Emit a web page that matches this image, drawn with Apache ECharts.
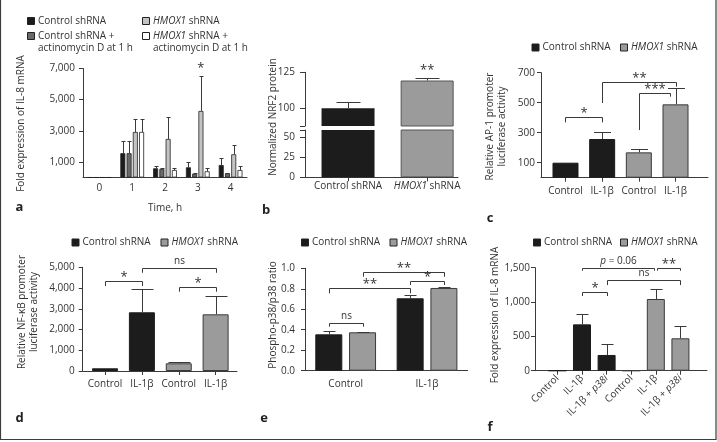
<!DOCTYPE html>
<html><head><meta charset="utf-8">
<script src="https://cdn.jsdelivr.net/npm/echarts@6/dist/echarts.min.js"></script>
<style>html,body{margin:0;padding:0;background:#fff}#c{width:717px;height:442px}</style>
</head><body><div id="c"></div>
<script>
// ---------------- DATA ----------------
// Panel a: fold expression of IL-8 mRNA over time
const aTimes = ['0', '1', '2', '3', '4'];
const aCtrl       = [1, 1560, 590, 655, 800];
const aCtrlErr    = [1, 2370, 740, 1000, 1235];
const aCtrlAct    = [1, 1560, 550, 245, 270];
const aCtrlActErr = [1, 2370, 600, 290, 300];
const aHmox       = [1, 2925, 2475, 4275, 1490];
const aHmoxErr    = [1, 3740, 3870, 6525, 2070];
const aHmoxAct    = [1, 2925, 480, 400, 480];
const aHmoxActErr = [1, 3740, 610, 590, 740];
const aYTicks = [1000, 3000, 5000, 7000];

// Panel b: normalized NRF2 protein (broken axis)
const bCats = ['Control shRNA', 'HMOX1 shRNA'];
const bValues = [100, 119.3];
const bErr = [104.6, 121.3];
const bUpperTicks = [100, 125];
const bLowerTicks = [0, 25, 50];

// Panel c: AP-1 promoter luciferase activity
const cCats = ['Control', 'IL-1β', 'Control', 'IL-1β'];
const cCtrl = [100, 258];
const cCtrlErr = [100, 302];
const cHmox = [169, 489];
const cHmoxErr = [191, 596];
const cYTicks = [100, 300, 500, 700];

// Panel d: NF-kB promoter luciferase activity
const dCats = ['Control', 'IL-1β', 'Control', 'IL-1β'];
const dCtrl = [130, 2830];
const dCtrlErr = [130, 3937];
const dHmox = [371, 2733];
const dHmoxErr = [450, 3630];

// Panel e: phospho-p38/p38 ratio
const eCats = ['Control', 'IL-1β'];
const eCtrl = [0.355, 0.707];
const eCtrlErr = [0.388, 0.739];
const eHmox = [0.375, 0.808];
const eHmoxErr = [0.381, 0.817];

// Panel f: IL-8 mRNA with p38 inhibitor
const fCats = ['Control', 'IL-1β', 'IL-1β + p38i', 'Control', 'IL-1β', 'IL-1β + p38i'];
const fCtrl = [0, 675, 229];
const fCtrlErr = [0, 821, 384];
const fHmox = [0, 1044, 472];
const fHmoxErr = [0, 1189, 651];

// significance annotations (data units)
const cSig = [
  {from: 0, to: 1, top: 403, endL: 369, endR: 369, text: '*'},
  {from: 1, to: 3, top: 640, endL: 498, endR: 607, text: '**'},
  {from: 2, to: 2.85, top: 563, endL: 318, endR: 540, text: '***'}
];
const dSig = [
  {from: 0, to: 1, top: 4337, endL: 4096, endR: 4096, text: '*'},
  {from: 1, to: 3, top: 4949, endL: 4737, endR: 4737, text: 'ns'},
  {from: 2, to: 3, top: 4034, endL: 3822, endR: 3822, text: '*'}
];
const eSig = [
  {from: 0, s1: 0, to: 0, s2: 1, top: 0.463, endL: 0.43, endR: 0.43, text: 'ns'},
  {from: 0, s1: 0, to: 1, s2: 0, top: 0.805, endL: 0.756, endR: 0.756, text: '**'},
  {from: 0, s1: 1, to: 1, s2: 1, top: 0.967, endL: 0.918, endR: 0.918, text: '**'},
  {from: 1, s1: 0, to: 1, s2: 1, top: 0.876, endL: 0.837, endR: 0.837, text: '*'}
];
const fSig = [
  {from: 1, to: 3.93, top: 1499, endL: 1456, endR: 1456, text: '{i|p} = 0.06'},
  {from: 4.04, to: 5, top: 1499, endL: 1456, endR: 1456, text: '**'},
  {from: 2, to: 5, top: 1320, endL: 1247, endR: 1247, text: 'ns'},
  {from: 1, to: 2, top: 1150, endL: 1087, endR: 1087, text: '*'}
];

// ---------------- STYLE ----------------
const FONT = '"Open Sans", "Noto Sans", sans-serif';
const TXT = '#333333';
const AX = '#3a3a3a';
const C_BLACK = '#1c1c1c', C_DGRAY = '#6a6a6a', C_LGRAY = '#c3c3c3', C_WHITE = '#ffffff', C_GRAY = '#9b9b9b';
const RICH = {i: {fontStyle: 'italic', fontSize: 10, fontFamily: FONT, color: TXT}};

const chart = echarts.init(document.getElementById('c'));

const fmtK = v => Number(v).toLocaleString('en-US');
const catFmt = cats => v => {
  const c = cats[Math.round(v)];
  return c === undefined ? '' : c.replace('HMOX1', '{i|HMOX1}').replace('p38i', '{i|p38i}');
};

function yAxis(grid, min, max, o) {
  o = o || {};
  return {
    type: 'value', gridIndex: grid, min: min, max: max, interval: o.interval,
    axisLine: {show: true, onZero: false, lineStyle: {color: AX, width: 1}},
    axisTick: {show: true, length: o.tickLen || 4, lineStyle: {color: AX}, customValues: o.ticks},
    axisLabel: {fontSize: 10, color: TXT, fontFamily: FONT, margin: o.margin || 6,
      customValues: o.labels, formatter: o.fmt || (v => fmtK(v))},
    splitLine: {show: false}
  };
}
function xValAxis(grid, min, max, cats, o) {
  o = o || {};
  const ticks = cats.map((c, i) => i);
  return {
    type: 'value', gridIndex: grid, min: min, max: max, show: o.show !== false,
    axisLine: {show: true, onZero: false, lineStyle: {color: AX, width: 1}},
    axisTick: {show: true, length: 4, lineStyle: {color: AX}, customValues: ticks},
    axisLabel: {fontSize: 10, color: TXT, fontFamily: FONT, margin: o.margin || 6,
      customValues: ticks, formatter: catFmt(cats), rich: RICH, rotate: o.rotate || 0},
    splitLine: {show: false}
  };
}

function barStyle(color) {
  return {color: color, borderColor: color === C_BLACK ? C_BLACK : AX, borderWidth: 1};
}

function errorSeries(xi, yi, points, capW, offsetOf) {
  return {
    type: 'custom', xAxisIndex: xi, yAxisIndex: yi, z: 5, silent: true,
    data: points,
    renderItem: function (params, api) {
      const x = api.value(0), v = api.value(1), t = api.value(2), s = api.value(3);
      if (!(t > v)) return;
      const dx = offsetOf ? offsetOf(s) : 0;
      const p = api.coord([x, v]), q = api.coord([x, t]);
      const cx = Math.round(p[0] + dx) + 0.5, qy = Math.round(q[1]) + 0.5;
      return {type: 'group', children: [
        {type: 'line', shape: {x1: cx, y1: p[1], x2: cx, y2: qy}, style: {stroke: AX, lineWidth: 1}},
        {type: 'line', shape: {x1: cx - capW / 2, y1: qy, x2: cx + capW / 2, y2: qy}, style: {stroke: AX, lineWidth: 1}}
      ]};
    }
  };
}

function sigText(text, x, y) {
  const star = /^\*+$/.test(text);
  return {type: 'text', style: {
    text: text, x: x, y: y - (star ? 4.5 : 7), align: 'center', verticalAlign: 'middle',
    fontSize: star ? 13 : 10, fontFamily: FONT, fill: TXT, rich: RICH
  }};
}

function bracketSeries(xi, yi, specs, offsetOf) {
  return {
    type: 'custom', xAxisIndex: xi, yAxisIndex: yi, z: 6, silent: true,
    data: specs.map(b => [b.from, b.top]),
    renderItem: function (params, api) {
      const b = specs[params.dataIndex];
      const dx1 = offsetOf ? offsetOf(b.s1) : 0, dx2 = offsetOf ? offsetOf(b.s2) : 0;
      const pT = api.coord([b.from, b.top]);
      const x1 = Math.round(pT[0] + dx1) + 0.5;
      const x2 = Math.round(api.coord([b.to, b.top])[0] + dx2) + 0.5;
      const yT = Math.round(pT[1]) + 0.5;
      const yL = api.coord([b.from, b.endL])[1];
      const yR = api.coord([b.to, b.endR])[1];
      return {type: 'group', children: [
        {type: 'polyline', shape: {points: [[x1, yL], [x1, yT], [x2, yT], [x2, yR]]},
          style: {stroke: AX, lineWidth: 1, fill: null}},
        sigText(b.text, (x1 + x2) / 2, yT)
      ]};
    }
  };
}

function starSeries(xi, yi, specs, offsetOf) {
  return {
    type: 'custom', xAxisIndex: xi, yAxisIndex: yi, z: 6, silent: true,
    data: specs.map(s => [s.x, s.y]),
    renderItem: function (params, api) {
      const s = specs[params.dataIndex];
      const p = api.coord([s.x, s.y]);
      const dx = offsetOf ? offsetOf(s.s) : 0;
      return sigText(s.text, p[0] + dx, p[1] - 3);
    }
  };
}

// bar layout helpers (px offsets of grouped bars inside a category)
const A_BW = 5, A_GAP = 1.25;
const offA = s => (s - 1.5) * (A_BW + A_GAP);
const E_BW = 27, E_GAP = 6.75;
const offE = s => (s - 0.5) * (E_BW + E_GAP);

// ---------------- SERIES ----------------
const series = [];
// panel a
const aSets = [
  ['Control shRNA', aCtrl, aCtrlErr, C_BLACK],
  ['Control shRNA + actinomycin D at 1 h', aCtrlAct, aCtrlActErr, C_DGRAY],
  ['HMOX1 shRNA', aHmox, aHmoxErr, C_LGRAY],
  ['HMOX1 shRNA + actinomycin D at 1 h', aHmoxAct, aHmoxActErr, C_WHITE]
];
const aErrPts = [];
aSets.forEach((s, si) => {
  series.push({type: 'bar', name: s[0], xAxisIndex: 0, yAxisIndex: 0, data: s[1],
    barWidth: A_BW, barGap: '25%', itemStyle: {color: s[3], borderColor: '#222', borderWidth: 0.8}});
  s[1].forEach((v, i) => aErrPts.push([i, v, s[2][i], si]));
});
series.push(errorSeries(0, 0, aErrPts, 4, offA));
series.push(starSeries(0, 0, [{x: 3, y: aHmoxErr[3], s: 2, text: '*'}], offA));

// panel b (upper grid 1, lower grid 2)
[1, 2].forEach(g => {
  series.push({type: 'bar', name: 'Control shRNA', xAxisIndex: g, yAxisIndex: g,
    data: [[0, bValues[0]]], barWidth: 53, barGap: '-100%', itemStyle: {color: C_BLACK}});
  series.push({type: 'bar', name: 'HMOX1 shRNA', xAxisIndex: g, yAxisIndex: g,
    data: [[1, bValues[1]]], barWidth: 53, barGap: '-100%', itemStyle: {color: C_GRAY, borderColor: '#555', borderWidth: 1}});
});
series.push(errorSeries(1, 1, bValues.map((v, i) => [i, v, bErr[i], 0]), 24));
series.push(starSeries(1, 1, [{x: 1, y: bErr[1], text: '**'}]));

// helper for split two-colour panels on value x-axes
function splitPanel(ax, ctrl, ctrlErr, hmox, hmoxErr, bw, capW) {
  series.push({type: 'bar', name: 'Control shRNA', xAxisIndex: ax, yAxisIndex: ax,
    data: ctrl.map((v, i) => [i, v]), barWidth: bw, barGap: '-100%', itemStyle: barStyle(C_BLACK)});
  series.push({type: 'bar', name: 'HMOX1 shRNA', xAxisIndex: ax, yAxisIndex: ax,
    data: hmox.map((v, i) => [i + ctrl.length, v]), barWidth: bw, barGap: '-100%', itemStyle: barStyle(C_GRAY)});
  const pts = ctrl.map((v, i) => [i, v, ctrlErr[i], 0])
    .concat(hmox.map((v, i) => [i + ctrl.length, v, hmoxErr[i], 1]));
  series.push(errorSeries(ax, ax, pts, capW));
}
splitPanel(3, cCtrl, cCtrlErr, cHmox, cHmoxErr, 26, 17);
series.push(bracketSeries(3, 3, cSig));
splitPanel(4, dCtrl, dCtrlErr, dHmox, dHmoxErr, 26, 22);
series.push(bracketSeries(4, 4, dSig));
// panel e (category axis, grouped)
series.push({type: 'bar', name: 'Control shRNA', xAxisIndex: 5, yAxisIndex: 5, data: eCtrl,
  barWidth: E_BW, barGap: '25%', itemStyle: barStyle(C_BLACK)});
series.push({type: 'bar', name: 'HMOX1 shRNA', xAxisIndex: 5, yAxisIndex: 5, data: eHmox,
  barWidth: E_BW, barGap: '25%', itemStyle: barStyle(C_GRAY)});
series.push(errorSeries(5, 5, eCtrl.map((v, i) => [i, v, eCtrlErr[i], 0])
  .concat(eHmox.map((v, i) => [i, v, eHmoxErr[i], 1])), 12, offE));
series.push(bracketSeries(5, 5, eSig, offE));
splitPanel(6, fCtrl, fCtrlErr, fHmox, fHmoxErr, 18, 12);
series.push(bracketSeries(6, 6, fSig));

// ---------------- GRAPHICS (legends, titles, letters) ----------------
const graphic = [];
function gText(x, y, text, o) {
  graphic.push({type: 'text', x: x, y: y, rotation: (o && o.rot) || 0, silent: true, style: Object.assign({
    text: text, fill: TXT, fontSize: 10, fontFamily: FONT, rich: RICH,
    align: 'left', verticalAlign: 'middle', lineHeight: 12
  }, (o && o.style) || {})});
}
function legendSq(x, y, color, text) {
  graphic.push({type: 'rect', silent: true, shape: {x: x + 0.5, y: y + 0.5, width: 7, height: 7},
    style: {fill: color, stroke: '#222', lineWidth: 1}});
  gText(x + 11, y - 2, text, {style: {verticalAlign: 'top'}});
}
// panel a legend
legendSq(27, 17, C_BLACK, 'Control shRNA');
legendSq(27, 32, C_DGRAY, 'Control shRNA +\nactinomycin D at 1 h');
legendSq(142, 17, C_LGRAY, '{i|HMOX1} shRNA');
legendSq(142, 32, C_WHITE, '{i|HMOX1} shRNA +\nactinomycin D at 1 h');
// panels c-f legends
[[531.5, 43.5, 620], [71.5, 238.5, 160.5], [301, 238.5, 389.5], [533, 238.5, 620]].forEach(p => {
  legendSq(p[0], p[1], C_BLACK, 'Control shRNA');
  legendSq(p[2], p[1], C_GRAY, '{i|HMOX1} shRNA');
});
// y-axis titles
const R90 = Math.PI / 2;
const tStyle = {style: {align: 'center'}, rot: R90};
gText(21.5, 123.5, 'Fold expression of IL-8 mRNA', tStyle);
gText(273, 117, 'Normalized NRF2 protein', tStyle);
gText(496, 126.5, 'Relative AP-1 promoter\nluciferase activity', tStyle);
gText(28, 312, 'Relative NF-κB promoter\nluciferase activity', tStyle);
gText(273.5, 315, 'Phospho-p38/p38 ratio', tStyle);
gText(495, 315, 'Fold expression of IL-8 mRNA', tStyle);
// panel letters
const lStyle = {style: {fontSize: 13, fontWeight: 'bold', fill: '#222', align: 'center'}};
gText(19.5, 207, 'a', lStyle);
gText(266, 210, 'b', lStyle);
gText(490, 218, 'c', lStyle);
gText(19.5, 418, 'd', lStyle);
gText(264, 418, 'e', lStyle);
gText(490, 427, 'f', lStyle);
// frame
graphic.push({type: 'polyline', silent: true, shape: {points: [[0.5, 0], [0.5, 439.5], [716, 439.5], [716, 0]]},
  style: {stroke: '#3c3c3c', lineWidth: 1.2, fill: null}});

// ---------------- OPTION ----------------
const option = {
  animation: false,
  textStyle: {fontFamily: FONT},
  grid: [
    {left: 83, top: 68.5, width: 164, height: 109},
    {left: 305, top: 72.3, width: 153, height: 53.7},
    {left: 305, top: 130, width: 153, height: 47.3},
    {left: 541, top: 72.7, width: 167, height: 105},
    {left: 82.7, top: 267.3, width: 154.3, height: 103.7},
    {left: 305, top: 268.3, width: 162.7, height: 102.4},
    {left: 535, top: 267.7, width: 172, height: 103}
  ],
  xAxis: [
    {type: 'category', gridIndex: 0, data: aTimes, boundaryGap: true,
      name: 'Time, h', nameLocation: 'middle', nameGap: 26,
      nameTextStyle: {fontSize: 10, color: TXT, fontFamily: FONT},
      axisLine: {lineStyle: {color: AX}}, axisTick: {alignWithLabel: true, length: 3, lineStyle: {color: AX}},
      axisLabel: {fontSize: 10, color: TXT, fontFamily: FONT, margin: 6}},
    Object.assign(xValAxis(1, -0.544, 1.39, bCats), {show: false}),
    xValAxis(2, -0.544, 1.39, bCats, {margin: 4}),
    xValAxis(3, -0.668, 3.886, cCats, {margin: 8}),
    xValAxis(4, -0.606, 3.58, dCats, {margin: 8}),
    {type: 'category', gridIndex: 5, data: eCats, boundaryGap: true,
      axisLine: {lineStyle: {color: AX}}, axisTick: {alignWithLabel: true, length: 4, lineStyle: {color: AX}},
      axisLabel: {fontSize: 10, color: TXT, fontFamily: FONT, margin: 8}},
    xValAxis(6, -0.91, 6.08, fCats, {margin: 6, rotate: 45})
  ],
  yAxis: [
    yAxis(0, 0, 7000, {labels: aYTicks, ticks: aYTicks, margin: 8}),
    yAxis(1, 87.7, 125, {labels: bUpperTicks, ticks: [87.7].concat(bUpperTicks), margin: 10, tickLen: 5}),
    yAxis(2, 0, 59.1, {labels: bLowerTicks, ticks: bLowerTicks.concat([59.1]), margin: 10, tickLen: 5}),
    yAxis(3, 0, 700, {labels: cYTicks, ticks: cYTicks, margin: 6}),
    yAxis(4, 0, 5000, {interval: 1000, margin: 8}),
    yAxis(5, 0, 1, {interval: 0.2, margin: 10, fmt: v => v.toFixed(1)}),
    yAxis(6, 0, 1500, {interval: 500, margin: 5})
  ],
  series: series,
  graphic: graphic
};
chart.setOption(option);
</script>
</body></html>
